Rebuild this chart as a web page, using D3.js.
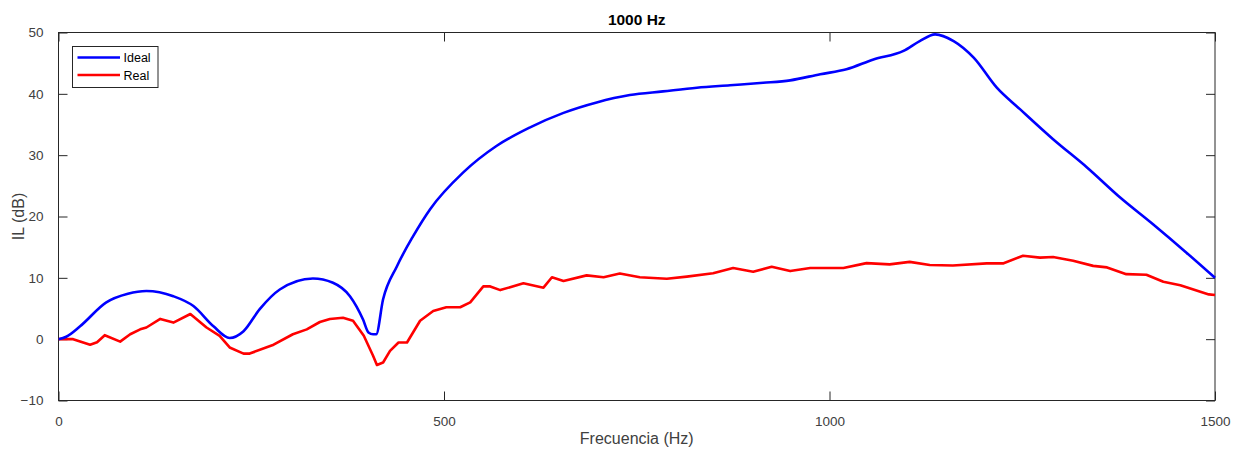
<!DOCTYPE html>
<html>
<head>
<meta charset="utf-8">
<script src="https://cdn.jsdelivr.net/npm/d3@7"></script>
<style>
  body { margin: 0; background: #fff; }
  svg text { font-family: "Liberation Sans", Arial, sans-serif; }
</style>
</head>
<body>
<div id="chart"></div>
<script>
// Ideal curve
var idealHz = [0, 10, 28, 62, 90, 114, 149, 175, 201, 222, 240, 261, 287, 330, 356, 378, 395, 402, 408, 412,
               421, 439, 460, 482, 525, 568, 611, 655, 698, 741, 784, 828, 871, 914, 949, 988, 1022, 1057,
               1096, 1117, 1137, 1161, 1187, 1217, 1247, 1290, 1334, 1377, 1420, 1463, 1500];
var idealDb = [0, 0.4, 2.1, 6.0, 7.4, 7.85, 7.0, 5.4, 2.1, 0.2, 1.3, 4.9, 8.1, 9.9, 9.2, 7.0, 3.2, 1.1, 0.8, 0.8,
               6.5, 11.9, 16.8, 21.2, 27.2, 31.5, 34.5, 36.9, 38.6, 39.8, 40.4, 41.0, 41.4, 41.8, 42.2, 43.2, 44.0, 45.6,
               47.0, 48.6, 49.7, 48.6, 45.9, 41.0, 37.5, 32.6, 28.0, 23.1, 18.7, 14.1, 10.0];

// Real (measured) curve
var realHz = [0, 19, 41, 50, 60, 80, 93, 106, 114, 132, 149, 171, 192, 209, 222, 240, 248, 279, 304, 322, 339, 352,
              369, 382, 396, 408, 413, 421, 430, 441, 452, 469, 486, 503, 521, 534, 551, 560, 573, 603, 629, 640,
              655, 685, 707, 728, 754, 789, 815, 849, 875, 901, 925, 949, 975, 1018, 1048, 1078, 1104, 1130, 1160,
              1204, 1225, 1251, 1273, 1290, 1316, 1342, 1360, 1385, 1411, 1433, 1455, 1492, 1500];
var realDb = [0, 0, -0.9, -0.5, 0.65, -0.4, 0.8, 1.6, 1.9, 3.3, 2.7, 4.1, 1.9, 0.55, -1.35, -2.35, -2.35, -0.9, 0.8,
              1.6, 2.8, 3.3, 3.5, 3.0, 0.55, -2.7, -4.2, -3.8, -1.9, -0.55, -0.55, 3.0, 4.6, 5.2, 5.2, 6.0, 8.6, 8.6,
              8.0, 9.1, 8.4, 10.1, 9.5, 10.4, 10.1, 10.7, 10.1, 9.85, 10.2, 10.75, 11.6, 11.0, 11.8, 11.1, 11.6, 11.6,
              12.4, 12.2, 12.6, 12.1, 12.0, 12.35, 12.35, 13.6, 13.3, 13.4, 12.8, 11.95, 11.7, 10.6, 10.5, 9.35,
              8.8, 7.3, 7.2];

var xTicks = [0, 500, 1000, 1500];
var yTicks = [-10, 0, 10, 20, 30, 40, 50];
var seriesNames = ['Ideal', 'Real'];
var seriesColors = ['#0000ff', '#ff0000'];

var width = 1240, height = 450;
var margin = {left: 58.5, right: 25, top: 32.5, bottom: 49.5};
var w = width - margin.left - margin.right,
    h = height - margin.top - margin.bottom;

var svg = d3.select('#chart').append('svg')
  .attr('width', width)
  .attr('height', height);

var g = svg.append('g')
  .attr('transform', 'translate(' + margin.left + ',' + margin.top + ')');

var x = d3.scaleLinear().domain([0, 1500]).range([0, w]);
var y = d3.scaleLinear().domain([-10, 50]).range([h, 0]);

var axisColor = '#262626';
var tickLen = 9;

/* Axes with inward ticks on all four sides, matlab style */
function styleAxis(sel) {
  sel.select('.domain').remove();
  sel.selectAll('line').attr('stroke', axisColor);
  sel.selectAll('text')
    .attr('fill', '#404040')
    .style('font-size', '13.5px');
}

g.append('g')
  .attr('transform', 'translate(0,' + h + ')')
  .call(d3.axisBottom(x).tickValues(xTicks).tickFormat(d3.format('d'))
    .tickSize(-tickLen).tickPadding(tickLen + 7))
  .call(styleAxis);

g.append('g')
  .call(d3.axisTop(x).tickValues(xTicks).tickSize(-tickLen).tickFormat(''))
  .call(styleAxis);

g.append('g')
  .call(d3.axisLeft(y).tickValues(yTicks).tickFormat(d3.format('d'))
    .tickSize(-tickLen).tickPadding(tickLen + 6))
  .call(styleAxis);

g.append('g')
  .attr('transform', 'translate(' + w + ',0)')
  .call(d3.axisRight(y).tickValues(yTicks).tickSize(-tickLen).tickFormat(''))
  .call(styleAxis);

g.append('rect')
  .attr('x', 0).attr('y', 0)
  .attr('width', w).attr('height', h)
  .attr('fill', 'none')
  .attr('stroke', axisColor)
  .attr('stroke-width', 1);

var clipId = 'plotclip';
g.append('clipPath').attr('id', clipId)
  .append('rect').attr('x', 0).attr('y', -2).attr('width', w + 2).attr('height', h + 4);

var idealLine = d3.line()
  .x(function (d, i) { return x(idealHz[i]); })
  .y(function (d) { return y(d); })
  .curve(d3.curveMonotoneX);

var realLine = d3.line()
  .x(function (d, i) { return x(realHz[i]); })
  .y(function (d) { return y(d); });

g.append('path')
  .datum(realDb)
  .attr('clip-path', 'url(#' + clipId + ')')
  .attr('fill', 'none')
  .attr('stroke', seriesColors[1])
  .attr('stroke-width', 2.6)
  .attr('stroke-linejoin', 'round')
  .attr('d', realLine);

g.append('path')
  .datum(idealDb)
  .attr('clip-path', 'url(#' + clipId + ')')
  .attr('fill', 'none')
  .attr('stroke', seriesColors[0])
  .attr('stroke-width', 2.6)
  .attr('stroke-linejoin', 'round')
  .attr('d', idealLine);

// title and labels
svg.append('text')
  .attr('x', margin.left + w / 2)
  .attr('y', 25)
  .attr('text-anchor', 'middle')
  .attr('fill', '#000')
  .style('font-size', '15.5px')
  .style('font-weight', 'bold')
  .text('1000 Hz');

svg.append('text')
  .attr('x', margin.left + w / 2)
  .attr('y', 444)
  .attr('text-anchor', 'middle')
  .attr('fill', '#404040')
  .style('font-size', '16px')
  .text('Frecuencia (Hz)');

svg.append('text')
  .attr('transform', 'translate(24,' + (margin.top + h / 2) + ') rotate(-90)')
  .attr('text-anchor', 'middle')
  .attr('fill', '#404040')
  .style('font-size', '16px')
  .text('IL (dB)');

// legend
var legend = svg.append('g').attr('transform', 'translate(72.5,46.5)');
legend.append('rect')
  .attr('width', 85.5).attr('height', 41)
  .attr('fill', '#fff')
  .attr('stroke', axisColor)
  .attr('stroke-width', 1);

seriesNames.forEach(function (name, i) {
  var ly = 11 + i * 17.5;
  legend.append('line')
    .attr('x1', 5).attr('x2', 47.5)
    .attr('y1', ly).attr('y2', ly)
    .attr('stroke', seriesColors[i])
    .attr('stroke-width', 2.6);
  legend.append('text')
    .attr('x', 51).attr('y', ly + 4.5)
    .attr('fill', '#000')
    .style('font-size', '12.5px')
    .text(name);
});
</script>
</body>
</html>
